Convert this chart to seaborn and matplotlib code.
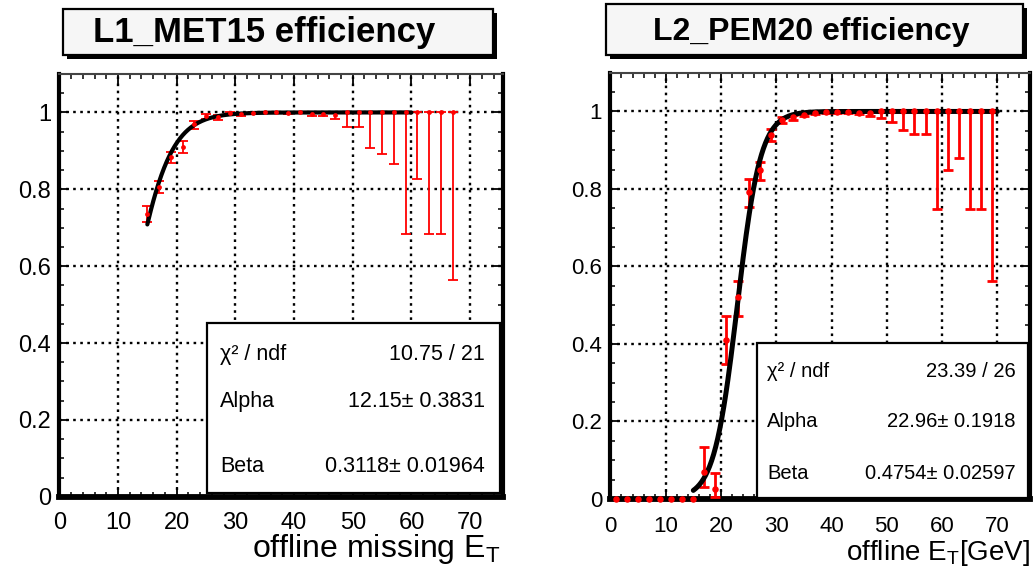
import numpy as np
import pandas as pd
import seaborn as sns
import matplotlib
matplotlib.use("Agg")
import matplotlib.pyplot as plt
from matplotlib.patches import Rectangle
from matplotlib.ticker import MultipleLocator, FuncFormatter

# ---------------- data ----------------
l1_x = [15, 17, 19, 21, 23, 25, 27, 29, 31, 33, 35, 37, 39, 41, 43, 45, 47,
        49, 51, 53, 55, 57, 59, 61, 63, 65, 67]
l1_eff = [0.735, 0.806, 0.883, 0.911, 0.969, 0.990, 0.988, 0.999, 0.996, 0.999,
          1.0, 1.0, 0.998, 1.0, 0.996, 0.996, 0.994,
          1.0, 1.0, 1.0, 1.0, 1.0, 1.0, 1.0, 1.0, 1.0, 1.0]
l1_err_lo = [0.020, 0.016, 0.015, 0.016, 0.011, 0.007, 0.007, 0.003, 0.004, 0.002,
             0.002, 0.002, 0.003, 0.002, 0.004, 0.006, 0.010,
             0.037, 0.037, 0.093, 0.109, 0.135, 0.317, 0.174, 0.317, 0.317, 0.436]
l1_err_hi = [0.021, 0.016, 0.014, 0.015, 0.010, 0.006, 0.006, 0.001, 0.003, 0.001,
             0.0, 0.0, 0.002, 0.0, 0.003, 0.004, 0.006,
             0.0, 0.0, 0.0, 0.0, 0.0, 0.0, 0.0, 0.0, 0.0, 0.0]
l1_alpha, l1_alpha_err = 12.15, 0.3831
l1_beta, l1_beta_err = 0.3118, 0.01964
l1_chi2, l1_ndf = 10.75, 21
l1_fit_range = (15, 60)

l2_x = [1, 3, 5, 7, 9, 11, 13, 15, 17, 19, 21, 23, 25, 27, 29, 31, 33, 35, 37,
        39, 41, 43, 45, 47, 49, 51, 53, 55, 57, 59, 61, 63, 65, 67, 69]
l2_eff = [0, 0, 0, 0, 0, 0, 0, 0,
          0.070, 0.025, 0.410, 0.520, 0.793, 0.849, 0.940, 0.978, 0.985, 0.992,
          0.996, 0.998, 0.999, 0.998, 0.997, 0.996,
          1.0, 1.0, 1.0, 1.0, 1.0, 1.0, 1.0, 1.0, 1.0, 1.0, 1.0]
l2_err_lo = [0, 0, 0, 0, 0, 0, 0, 0,
             0.038, 0.021, 0.062, 0.048, 0.039, 0.026, 0.016, 0.008, 0.007, 0.005,
             0.003, 0.002, 0.002, 0.002, 0.003, 0.008,
             0.018, 0.026, 0.048, 0.058, 0.058, 0.252, 0.151, 0.121, 0.252, 0.252, 0.437]
l2_err_hi = [0, 0, 0, 0, 0, 0, 0, 0,
             0.065, 0.043, 0.062, 0.043, 0.032, 0.021, 0.015, 0.008, 0.006, 0.004,
             0.003, 0.002, 0.001, 0.002, 0.002, 0.004,
             0, 0, 0, 0, 0, 0, 0, 0, 0, 0, 0]
l2_alpha, l2_alpha_err = 22.96, 0.1918
l2_beta, l2_beta_err = 0.4754, 0.02597
l2_chi2, l2_ndf = 23.39, 26
l2_fit_range = (15, 70)

x_ticks = [0, 10, 20, 30, 40, 50, 60, 70]

# ---------------- style ----------------
sns.set_theme(style="ticks")
plt.rcParams["font.family"] = ["Liberation Sans", "DejaVu Sans"]
plt.rcParams["mathtext.fontset"] = "custom"
plt.rcParams["mathtext.rm"] = "Liberation Sans"
plt.rcParams["mathtext.it"] = "Liberation Sans:italic"

W, H = 1034, 569
fig = plt.figure(figsize=(W / 100, H / 100), dpi=100)


def fx(px):
    return px / W


def fy(py):
    return 1 - py / H


def frect(x0, y0, x1, y1):
    return [fx(x0), fy(y1), fx(x1) - fx(x0), fy(y0) - fy(y1)]


def logistic(x, a, b):
    return 1.0 / (1.0 + np.exp(-b * (x - a)))


def draw_panel(rect, xmax, x, eff, lo, hi, alpha, beta, fit_range,
               tick_fs, elw, msize, fit_lw, xpad):
    ax = fig.add_axes(rect)
    ax.set_xlim(0, xmax)
    ax.set_ylim(0, 1.1)
    ax.xaxis.set_major_locator(MultipleLocator(10))
    ax.xaxis.set_minor_locator(MultipleLocator(2))
    ax.yaxis.set_major_locator(MultipleLocator(0.2))
    ax.yaxis.set_minor_locator(MultipleLocator(0.05))
    ax.yaxis.set_major_formatter(FuncFormatter(lambda v, p: "%g" % round(v, 3)))
    ax.set_xticks(x_ticks)
    ax.set_xticklabels([str(t) for t in x_ticks])
    ax.grid(True, which="major", color="black", linestyle=(0, (1.1, 1.9)),
            linewidth=1.7)
    ax.set_axisbelow(True)
    ax.tick_params(which="both", direction="in", top=True, right=True,
                   color="black", labelsize=tick_fs, labelcolor="black")
    ax.tick_params(which="major", length=7, width=1.3)
    ax.tick_params(which="minor", length=3.5, width=1.1)
    ax.tick_params(axis="x", which="major", pad=xpad)
    ax.tick_params(axis="y", which="major", pad=6)
    for side in ("left", "right"):
        ax.spines[side].set_linewidth(3.0)
        ax.spines[side].set_color("black")
    ax.spines["bottom"].set_linewidth(4.2)
    ax.spines["bottom"].set_color("black")
    ax.spines["top"].set_linewidth(1.5)
    ax.spines["top"].set_color("#444444")

    xa = np.asarray(x, float)
    ya = np.asarray(eff, float)
    loa = np.asarray(lo, float)
    hia = np.asarray(hi, float)
    m = (loa + hia) > 0
    ax.errorbar(xa[m], ya[m], yerr=np.vstack([loa[m], hia[m]]), fmt="none",
                ecolor="red", elinewidth=elw, capsize=3.6, capthick=elw,
                zorder=3)
    df = pd.DataFrame({"x": xa, "eff": ya})
    sns.scatterplot(data=df, x="x", y="eff", color="red", s=msize,
                    linewidth=0, ax=ax, zorder=5, clip_on=False)

    xf = np.linspace(fit_range[0], fit_range[1], 300)
    fit_df = pd.DataFrame({"x": xf, "f": logistic(xf, alpha, beta)})
    sns.lineplot(data=fit_df, x="x", y="f", color="black", linewidth=fit_lw,
                 estimator=None, ax=ax, zorder=4)
    ax.set_xlabel("")
    ax.set_ylabel("")
    return ax


ax1 = draw_panel(frect(59.3, 74, 503, 496.8), 75.6, l1_x, l1_eff, l1_err_lo,
                 l1_err_hi, l1_alpha, l1_beta, l1_fit_range,
                 tick_fs=17, elw=1.3, msize=12, fit_lw=3.0, xpad=11)
ax2 = draw_panel(frect(610.4, 72.7, 1030, 499), 75.9, l2_x, l2_eff, l2_err_lo,
                 l2_err_hi, l2_alpha, l2_beta, l2_fit_range,
                 tick_fs=16, elw=2.0, msize=22, fit_lw=3.6, xpad=12)

# axis titles
fig.text(fx(500), fy(557), r"offline missing $\mathrm{E}_{\mathrm{T}}$",
         ha="right", va="baseline", fontsize=23, color="black")
fig.text(fx(1030), fy(560), r"offline $\mathrm{E}_{\mathrm{T}}$[GeV]",
         ha="right", va="baseline", fontsize=20, color="black")


def title_box(x0, y0, x1, y1, text, tx, ty, fs):
    sh = 4
    fig.add_artist(Rectangle((fx(x0 + sh), fy(y1 + sh)), fx(x1) - fx(x0),
                             fy(y0) - fy(y1), transform=fig.transFigure,
                             facecolor="black", edgecolor="none", zorder=5))
    fig.add_artist(Rectangle((fx(x0), fy(y1)), fx(x1) - fx(x0),
                             fy(y0) - fy(y1), transform=fig.transFigure,
                             facecolor="#f6f6f6", edgecolor="black",
                             linewidth=1.6, zorder=6))
    fig.text(fx(tx), fy(ty), text, ha="center", va="baseline", fontsize=fs,
             fontweight="bold", color="black", zorder=7)


title_box(63, 9, 493, 55, "L1_MET15 efficiency", 264.5, 41.7, 25)
title_box(606, 4, 1023, 55, "L2_PEM20 efficiency", 811, 40, 23)


def stats_box(x0, y0, x1, y1, lx, vx, rows_y, fs, chi2, ndf, a, ae, b, be):
    fig.add_artist(Rectangle((fx(x0), fy(y1)), fx(x1) - fx(x0),
                             fy(y0) - fy(y1), transform=fig.transFigure,
                             facecolor="white", edgecolor="black",
                             linewidth=1.6, zorder=5))
    labels = ["χ² / ndf", "Alpha", "Beta"]
    values = ["%g / %d" % (chi2, ndf), "%g± %g" % (a, ae), "%g± %g" % (b, be)]
    for lab, val, yy in zip(labels, values, rows_y):
        fig.text(fx(lx), fy(yy), lab, ha="left", va="baseline", fontsize=fs,
                 color="black", zorder=6)
        fig.text(fx(vx), fy(yy), val, ha="right", va="baseline", fontsize=fs,
                 color="black", zorder=6)


stats_box(207, 323, 500, 493, 220, 485, [360, 407, 472], 15.5,
          l1_chi2, l1_ndf, l1_alpha, l1_alpha_err, l1_beta, l1_beta_err)
stats_box(757, 343, 1028, 498, 767, 1016, [377, 427, 479], 14.5,
          l2_chi2, l2_ndf, l2_alpha, l2_alpha_err, l2_beta, l2_beta_err)

fig.savefig("out.png", dpi=100)
